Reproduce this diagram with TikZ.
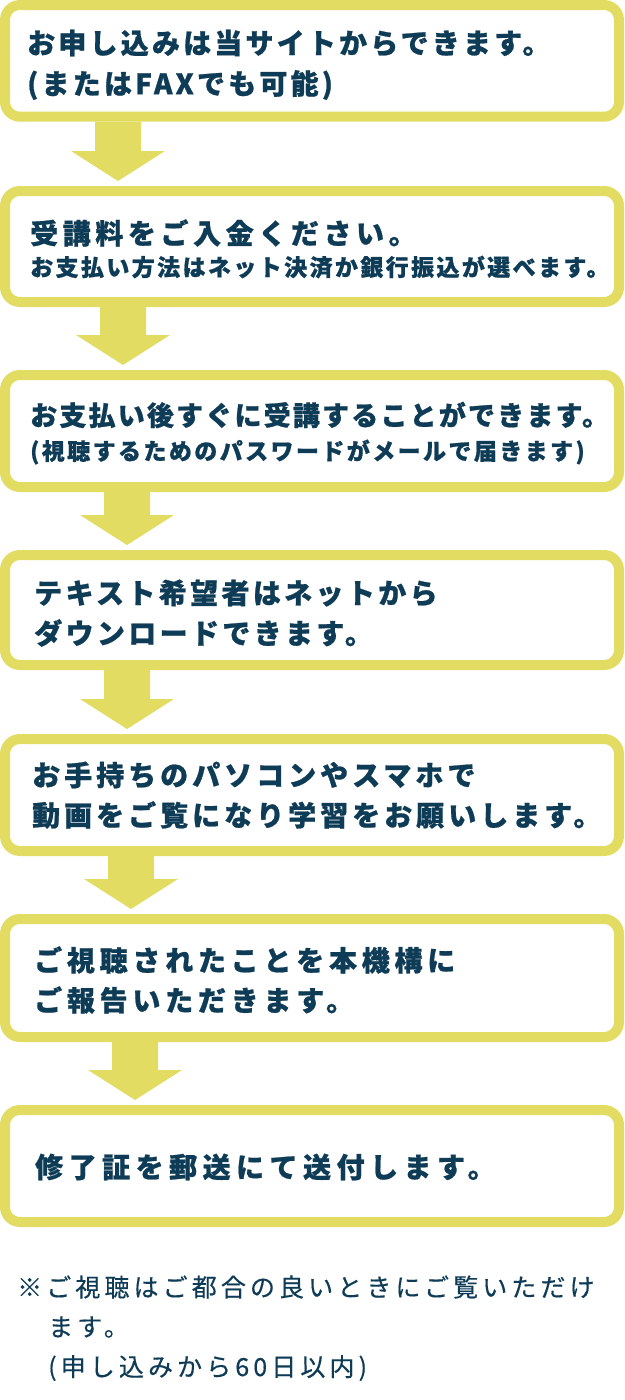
\documentclass[tikz,border=0pt]{standalone}
\usepackage{fontspec}
\newfontfamily\jp{Noto Sans CJK JP}
\usetikzlibrary{calc}
\definecolor{yel}{RGB}{227,220,99}
\definecolor{navy}{RGB}{14,59,86}
\newcommand\jl[3]{{\fontsize{#1}{#1}\selectfont\jp\bfseries\addfontfeature{LetterSpace=#2,FakeBold=0.8}#3}}
\newcommand\jr[3]{{\fontsize{#1}{#1}\selectfont\jp\addfontfeature{LetterSpace=#2,FakeBold=0.4}#3}}
\newcommand\flowarrow[3]{%
  \fill[yel] let \p1=(#2.south), \p2=(#3.north) in
    (#1-23,\y1) -- (#1+23,\y1) -- (#1+23,\y2+35) -- (#1+47,\y2+35) --
    (#1,\y2+5) -- (#1-47,\y2+35) -- (#1-23,\y2+35) -- cycle;}
\begin{document}
\begin{tikzpicture}[x=1pt,y=1pt,
  box/.style={draw=yel, line width=10pt, rounded corners=15pt, fill=white,
    minimum width=614pt, inner sep=0pt},
  txt/.style={anchor=west, inner sep=0pt, text=navy}]
\useasboundingbox (0,0) rectangle (624,-1400);
% boxes
\node[box, minimum height=111.7pt] (b1) at (312,-60.85) {};
\node[box, minimum height=111pt] (b2) at (312,-246.5) {};
\node[box, minimum height=112pt] (b3) at (312,-431) {};
\node[box, minimum height=110pt] (b4) at (312,-610) {};
\node[box, minimum height=112pt] (b5) at (312,-795) {};
\node[box, minimum height=118pt] (b6) at (312,-978) {};
\node[box, minimum height=112pt] (b7) at (312,-1166) {};
% arrows
\flowarrow{118}{b1}{b2}
\flowarrow{123}{b2}{b3}
\flowarrow{127}{b3}{b4}
\flowarrow{127}{b4}{b5}
\flowarrow{131}{b5}{b6}
\flowarrow{135}{b6}{b7}
% texts
\node[txt] (t1a) at (27,-43) {\jl{28}{11.4}{お申し込みは当サイトからできます。}};
\node[txt] (t1b) at (27,-85) {\jl{28}{11.4}{(またはFAXでも可能)}};
\node[txt] (t2a) at (30,-233) {\jl{28}{16.4}{受講料をご入金ください。}};
\node[txt] (t2b) at (30,-267) {\jl{23}{10.4}{お支払い方法はネット決済か銀行振込が選べます。}};
\node[txt] (t3a) at (30,-415) {\jl{27}{8.1}{お支払い後すぐに受講することができます。}};
\node[txt] (t3b) at (30,-452) {\jl{23}{10.5}{(視聴するためのパスワードがメールで届きます)}};
\node[txt] (t4a) at (34,-593) {\jl{28}{12}{テキスト希望者はネットから}};
\node[txt] (t4b) at (34,-633) {\jl{28}{12}{ダウンロードできます。}};
\node[txt] (t5a) at (32,-775) {\jl{28}{14.3}{お手持ちのパソコンやスマホで}};
\node[txt] (t5b) at (32,-815) {\jl{28}{14.3}{動画をご覧になり学習をお願いします。}};
\node[txt] (t6a) at (34,-960) {\jl{28}{17}{ご視聴されたことを本機構に}};
\node[txt] (t6b) at (34,-1000) {\jl{28}{17}{ご報告いただきます。}};
\node[txt] (t7) at (35,-1167) {\jl{28}{19.6}{修了証を郵送にて送付します。}};
\node[txt] (n1) at (17,-1287) {\jr{25}{16.4}{※ご視聴はご都合の良いときにご覧いただけ}};
\node[txt] (n2) at (48,-1327) {\jr{25}{16.4}{ます。}};
\node[txt] (n3) at (48,-1368) {\jr{25}{16.4}{(申し込みから60日以内)}};
\end{tikzpicture}
\end{document}
